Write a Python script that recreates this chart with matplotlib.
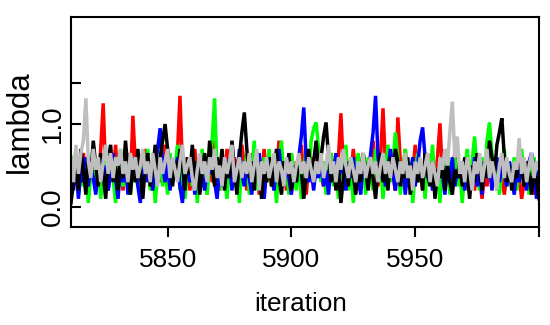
import matplotlib
matplotlib.use("Agg")
import matplotlib.pyplot as plt
import numpy as np

plt.rcParams['font.family'] = ['Liberation Sans', 'DejaVu Sans']

# trace values per chain, iterations 5811..6000
red = [0.45, 0.30, 0.55, 0.20, 0.40, 0.65, 0.35, 0.15, 0.50, 0.30,
       0.60, 0.25, 0.70, 1.25, 0.40, 0.20, 0.55, 0.35, 0.75, 0.30,
       0.50, 0.20, 0.45, 0.65, 0.30, 1.10, 0.50, 0.25, 0.60, 0.40,
       0.70, 0.35, 0.55, 0.20, 0.45, 0.60, 0.30, 0.50, 0.75, 0.40,
       0.25, 0.55, 0.35, 0.65, 1.34, 0.50, 0.30, 0.60, 0.20, 0.45,
       0.70, 0.35, 0.55, 0.25, 0.50, 0.40, 0.65, 0.30, 0.80, 0.45,
       0.20, 0.55, 0.35, 0.70, 0.40, 0.25, 0.60, 0.45, 0.30, 0.75,
       0.50, 0.20, 0.45, 0.65, 0.35, 0.55, 0.15, 0.40, 0.70, 0.30,
       0.55, 0.25, 0.60, 0.40, 0.80, 0.35, 0.50, 0.20, 0.45, 0.65,
       0.30, 0.55, 0.40, 0.75, 0.35, 0.15, 0.50, 0.60, 0.30, 0.45,
       0.70, 0.40, 0.25, 0.55, 0.35, 0.65, 0.45, 0.30, 0.60, 1.13,
       0.45, 0.25, 0.55, 0.35, 0.70, 0.40, 0.20, 0.50, 0.65, 0.30,
       0.55, 0.40, 0.80, 0.45, 0.25, 0.60, 1.19, 0.50, 0.30, 0.65,
       0.40, 0.20, 1.08, 0.55, 0.35, 0.70, 0.25, 0.50, 0.40, 0.75,
       0.30, 0.55, 0.20, 0.45, 0.65, 0.35, 0.50, 0.25, 0.60, 1.01,
       0.40, 0.30, 0.55, 0.20, 0.45, 0.65, 0.35, 0.50, 0.15, 0.40,
       0.60, 0.30, 0.45, 0.20, 0.55, 0.35, 0.10, 0.40, 0.25, 0.50,
       0.30, 0.60, 0.20, 0.45, 0.35, 0.15, 0.40, 0.55, 0.30, 0.20,
       0.45, 0.35, 0.10, 0.30, 0.50, 0.25, 0.40, 0.15, 0.35, 0.45]

green = [0.60, 0.35, 0.70, 0.15, 0.45, 0.25, 0.55, 0.05, 0.40, 0.75,
         0.30, 0.50, 0.10, 0.45, 0.65, 0.20, 0.55, 0.35, 0.05, 0.50,
         0.70, 0.25, 0.40, 0.60, 0.15, 0.45, 0.30, 0.65, 0.10, 0.50,
         0.35, 0.70, 0.20, 0.55, 0.05, 0.40, 0.60, 0.25, 0.50, 0.15,
         0.65, 0.30, 0.45, 0.75, 0.20, 0.55, 0.10, 0.40, 0.60, 0.25,
         0.50, 0.05, 0.45, 0.70, 0.30, 0.15, 0.55, 0.80, 1.31, 0.40,
         0.20, 0.60, 0.35, 0.10, 0.50, 0.75, 0.25, 0.45, 0.05, 0.55,
         0.30, 0.65, 0.15, 0.40, 0.80, 0.20, 0.50, 0.10, 0.60, 0.35,
         0.70, 0.25, 0.45, 0.05, 0.55, 0.80, 0.30, 0.50, 0.15, 0.65,
         0.40, 0.20, 0.60, 0.10, 0.45, 0.70, 0.35, 0.80, 0.95, 1.02,
         0.70, 0.30, 0.55, 0.15, 0.45, 0.65, 0.25, 0.50, 0.10, 0.60,
         0.35, 0.75, 0.20, 0.50, 0.05, 0.45, 0.65, 0.30, 0.55, 0.15,
         0.60, 0.40, 0.20, 0.70, 0.35, 0.55, 0.10, 0.45, 0.75, 0.30,
         0.50, 0.90, 0.60, 0.15, 0.45, 0.70, 0.25, 0.55, 0.05, 0.40,
         0.65, 0.30, 0.50, 0.10, 0.60, 0.35, 0.75, 0.20, 0.45, 0.05,
         0.55, 0.30, 0.70, 0.15, 0.40, 0.60, 0.25, 0.50, 0.05, 0.45,
         0.70, 0.30, 0.55, 0.85, 0.40, 0.20, 0.60, 0.35, 0.80, 1.02,
         0.65, 0.30, 0.50, 0.15, 0.45, 0.70, 0.25, 0.55, 0.35, 0.60,
         0.20, 0.45, 0.70, 0.30, 0.55, 0.15, 0.40, 0.60, 0.35, 0.50]

blue = [0.40, 0.20, 0.55, 0.10, 0.45, 0.30, 0.60, 0.25, 0.50, 0.35,
        0.15, 0.45, 0.60, 0.30, 0.50, 0.20, 0.40, 0.65, 0.35, 0.10,
        0.50, 0.30, 0.55, 0.15, 0.45, 0.35, 0.60, 0.25, 0.05, 0.40,
        0.55, 0.30, 0.45, 0.20, 0.50, 0.70, 0.95, 0.50, 0.30, 0.55,
        0.20, 0.45, 0.35, 0.60, 0.25, 0.05, 0.40, 0.55, 0.30, 0.50,
        0.15, 0.45, 0.60, 0.35, 0.20, 0.50, 0.40, 0.65, 0.30, 0.10,
        0.45, 0.25, 0.55, 0.35, 0.60, 0.20, 0.50, 0.30, 0.70, 0.40,
        0.25, 0.55, 0.35, 0.15, 0.50, 0.40, 0.65, 0.30, 0.10, 0.45,
        0.60, 0.35, 0.20, 0.50, 0.70, 0.40, 0.25, 0.55, 0.35, 0.15,
        0.45, 0.30, 0.60, 0.85, 1.20, 0.55, 0.30, 0.45, 0.20, 0.50,
        0.35, 0.60, 0.25, 0.45, 0.15, 0.50, 0.35, 0.65, 0.30, 0.55,
        0.40, 0.20, 0.50, 0.35, 0.60, 0.25, 0.45, 0.15, 0.55, 0.40,
        0.30, 0.65, 0.90, 1.34, 0.60, 0.35, 0.50, 0.25, 0.45, 0.70,
        0.40, 0.20, 0.55, 0.30, 0.50, 0.15, 0.45, 0.35, 0.60, 0.25,
        0.50, 0.80, 0.96, 0.60, 0.35, 0.50, 0.20, 0.45, 0.30, 0.55,
        0.40, 0.15, 0.50, 0.30, 0.60, 0.25, 0.45, 0.35, 0.55, 0.20,
        0.40, 0.50, 0.30, 0.60, 0.25, 0.45, 0.15, 0.55, 0.35, 0.50,
        0.20, 0.45, 0.60, 0.30, 0.50, 0.40, 0.25, 0.55, 0.35, 0.15,
        0.45, 0.30, 0.60, 0.40, 0.20, 0.55, 0.65, 0.45, 0.10, 0.50]

black = [0.05, 0.30, 0.55, 0.20, 0.70, 0.45, 0.15, 0.60, 0.35, 0.80,
         0.50, 0.25, 0.65, 0.40, 0.10, 0.55, 0.75, 0.30, 0.50, 0.20,
         0.60, 0.35, 0.80, 0.45, 0.15, 0.55, 0.30, 0.70, 0.40, 0.10,
         0.50, 0.65, 0.25, 0.45, 0.75, 0.35, 0.60, 0.80, 1.00, 0.70,
         0.45, 0.25, 0.55, 0.35, 0.70, 0.50, 0.20, 0.60, 0.40, 0.75,
         0.30, 0.55, 0.15, 0.45, 0.65, 0.35, 0.80, 0.50, 0.25, 0.60,
         0.40, 0.70, 0.20, 0.55, 0.35, 0.80, 0.45, 0.15, 0.60, 0.90,
         1.14, 0.70, 0.35, 0.55, 0.20, 0.65, 0.40, 0.10, 0.50, 0.30,
         0.60, 0.25, 0.45, 0.70, 0.35, 0.15, 0.55, 0.40, 0.65, 0.20,
         0.50, 0.30, 0.60, 0.45, 0.10, 0.40, 0.70, 0.35, 0.55, 0.80,
         0.45, 0.60, 0.85, 1.02, 0.60, 0.30, 0.50, 0.20, 0.45, 0.05,
         0.35, 0.55, 0.25, 0.60, 0.40, 0.15, 0.50, 0.30, 0.65, 0.45,
         0.20, 0.55, 0.35, 0.10, 0.45, 0.65, 0.30, 0.50, 0.20, 0.60,
         0.40, 0.70, 0.55, 0.25, 0.45, 0.35, 0.60, 0.15, 0.40, 0.55,
         0.30, 0.50, 0.20, 0.65, 0.40, 0.25, 0.55, 0.10, 0.45, 0.35,
         0.60, 0.20, 0.50, 0.30, 0.15, 0.45, 0.35, 0.55, 0.25, 0.60,
         0.40, 0.10, 0.50, 0.30, 0.65, 0.45, 0.20, 0.55, 0.35, 0.80,
         0.60, 0.40, 0.75, 0.90, 1.07, 0.60, 0.30, 0.50, 0.20, 0.45,
         0.35, 0.60, 0.45, 0.25, 0.55, 0.40, 0.15, 0.50, 0.30, 0.10]

gray = [0.60, 0.30, 0.75, 0.40, 0.65, 0.80, 1.31, 0.55, 0.35, 0.70,
        0.45, 0.60, 0.30, 0.55, 0.75, 0.40, 0.65, 0.35, 0.60, 0.50,
        0.70, 0.40, 0.55, 0.30, 0.65, 0.45, 0.60, 0.35, 0.50, 0.70,
        0.40, 0.55, 0.30, 0.65, 0.45, 0.25, 0.60, 0.40, 0.55, 0.70,
        0.35, 0.60, 0.45, 0.30, 0.55, 0.75, 0.40, 0.50, 0.60, 0.35,
        0.20, 0.45, 0.65, 0.40, 0.55, 0.30, 0.60, 0.45, 0.70, 0.35,
        0.50, 0.25, 0.60, 0.40, 0.55, 0.75, 0.30, 0.45, 0.60, 0.35,
        0.55, 0.40, 0.65, 0.30, 0.50, 0.70, 0.20, 0.55, 0.40, 0.60,
        0.35, 0.50, 0.65, 0.30, 0.55, 0.45, 0.25, 0.60, 0.40, 0.55,
        0.30, 0.50, 0.65, 0.40, 0.55, 0.35, 0.60, 0.45, 0.30, 0.55,
        0.40, 0.65, 0.35, 0.50, 0.75, 0.40, 0.55, 0.30, 0.60, 0.45,
        0.70, 0.50, 0.35, 0.60, 0.45, 0.30, 0.55, 0.40, 0.65, 0.35,
        0.50, 0.60, 0.40, 0.55, 0.30, 0.50, 0.65, 0.40, 0.55, 0.35,
        0.60, 0.45, 0.30, 0.55, 0.40, 0.65, 0.35, 0.50, 0.20, 0.55,
        0.40, 0.60, 0.35, 0.50, 0.65, 0.30, 0.55, 0.40, 0.25, 0.60,
        0.45, 0.70, 0.50, 0.90, 1.27, 0.60, 0.85, 0.40, 0.55, 0.30,
        0.60, 0.45, 0.20, 0.55, 0.40, 0.65, 0.30, 0.50, 0.70, 0.35,
        0.55, 0.40, 0.20, 0.50, 0.65, 0.35, 0.60, 0.40, 0.30, 0.55,
        0.45, 0.83, 0.40, 0.60, 0.30, 0.50, 0.65, 0.35, 0.55, 0.45]

start_iter = 5811
x_ticks = [5850, 5900, 5950, 6000]
x_ticklabels = ['5850', '5900', '5950', '']
y_ticks = [0.0, 0.5, 1.0, 1.5]
y_ticklabels = ['0.0', '', '1.0', '']

chains = [(red, '#FF0000'), (green, '#00FF00'), (blue, '#0000FF'),
          (black, '#000000'), (gray, '#BEBEBE')]

fig = plt.figure(figsize=(5.5, 3.25), dpi=100)
ax = fig.add_axes([71 / 550, 98 / 325, 468 / 550, 210 / 325])

for vals, col in chains:
    it = np.arange(start_iter, start_iter + len(vals))
    ax.plot(it, vals, color=col, lw=2.5, solid_joinstyle='miter')

ax.set_xlim(5811, 6000)
ax.set_ylim(-0.24, 2.29)

fs = 18.8
ax.set_xticks(x_ticks)
ax.set_xticklabels(x_ticklabels, fontsize=fs)
ax.set_yticks(y_ticks)
ax.set_yticklabels(y_ticklabels, fontsize=20, rotation=90, va='center')
ax.tick_params(axis='x', direction='out', length=7, width=1.5, pad=8)
ax.tick_params(axis='y', direction='in', length=7.5, width=1.5, pad=4)

for s in ax.spines.values():
    s.set_linewidth(1.5)

ax.set_xlabel('iteration', fontsize=fs)
ax.set_ylabel('lambda', fontsize=22.5)
ax.xaxis.set_label_coords(0.5 - 4 / 468, (227 - 304) / 210)
ax.xaxis.label.set_va('center')
ax.yaxis.set_label_coords((20 - 71) / 468, 0.5)
ax.yaxis.label.set_va('center')

fig.savefig('out.png', dpi=100)
